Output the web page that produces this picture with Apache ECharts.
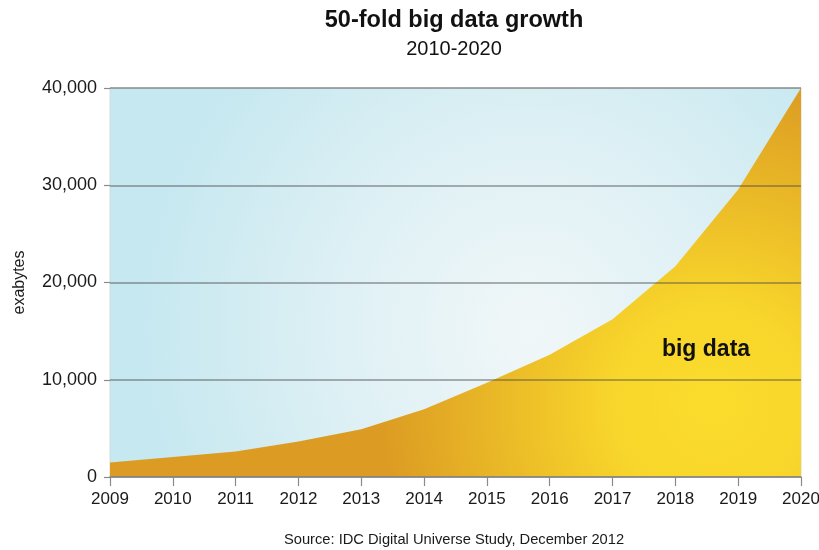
<!DOCTYPE html>
<html>
<head>
<meta charset="utf-8">
<script src="https://cdn.jsdelivr.net/npm/echarts@6/dist/echarts.min.js"></script>
<style>
  html, body { margin: 0; padding: 0; background: #ffffff; overflow: hidden; }
  #chart { width: 819px; height: 550px; }
</style>
</head>
<body>
<div id="chart"></div>
<script>
// Worldwide data volume, in exabytes
const years = ['2009', '2010', '2011', '2012', '2013', '2014', '2015', '2016', '2017', '2018', '2019', '2020'];
const exabytes = [1500, 2050, 2630, 3660, 4910, 6960, 9700, 12580, 16220, 21670, 29560, 40000];
const yMin = 0;
const yMax = 40000;
const yStep = 10000;

const FONT = '"Liberation Sans", Arial, Helvetica, sans-serif';

const chart = echarts.init(document.getElementById('chart'), null, { renderer: 'canvas', width: 819, height: 550 });

chart.setOption({
  animation: false,
  backgroundColor: '#ffffff',
  title: {
    text: '50-fold big data growth',
    subtext: '2010-2020',
    left: 449,
    textAlign: 'center',
    top: 4,
    itemGap: 6,
    textStyle: { fontFamily: FONT, fontSize: 23.5, fontWeight: 'bold', color: '#111111' },
    subtextStyle: { fontFamily: FONT, fontSize: 20, color: '#111111' }
  },
  grid: {
    left: 110,
    right: 18,
    top: 88,
    bottom: 73,
    outerBoundsMode: 'none',
    show: true,
    borderWidth: 1,
    borderColor: '#d4d8da',
    backgroundColor: {
      type: 'radial', x: 530, y: 330, r: 390, global: true,
      colorStops: [
        { offset: 0, color: '#f1f7f8' },
        { offset: 0.45, color: '#e0f1f5' },
        { offset: 1, color: '#c6e8f0' }
      ]
    }
  },
  xAxis: {
    type: 'category',
    data: years,
    boundaryGap: false,
    z: 4,
    axisLine: { show: true, lineStyle: { color: '#8a8a8a', width: 1.5 } },
    axisTick: { show: true, inside: false, length: 9, alignWithLabel: true, lineStyle: { color: '#8a8a8a', width: 1.2 } },
    axisLabel: { fontFamily: FONT, fontSize: 17, color: '#1a1a1a', margin: 14 },
    splitLine: { show: false }
  },
  yAxis: {
    type: 'value',
    min: yMin,
    max: yMax,
    interval: yStep,
    z: 4,
    name: 'exabytes',
    nameLocation: 'middle',
    nameRotate: 90,
    nameGap: 82,
    nameTextStyle: { fontFamily: FONT, fontSize: 16, color: '#1a1a1a' },
    axisLine: { show: false },
    axisTick: { show: true, length: 6, lineStyle: { color: '#8a8a8a', width: 1.2 } },
    axisLabel: {
      fontFamily: FONT, fontSize: 18, color: '#1a1a1a', margin: 13,
      formatter: v => v.toLocaleString('en-US')
    },
    splitLine: { show: true, lineStyle: { color: 'rgba(70,70,70,0.55)', width: 1.5 } }
  },
  series: [{
    type: 'line',
    data: exabytes,
    symbol: 'none',
    smooth: false,
    z: 2,
    lineStyle: { width: 0 },
    areaStyle: {
      opacity: 1,
      color: {
        type: 'radial', x: 712, y: 405, r: 330, global: true,
        colorStops: [
          { offset: 0, color: '#fbdc2c' },
          { offset: 0.3, color: '#f8d62b' },
          { offset: 1, color: '#dc9c23' }
        ]
      }
    }
  }],
  graphic: [
    {
      type: 'text',
      x: 706, y: 350,
      z: 10,
      style: {
        text: 'big data', fontFamily: FONT, fontSize: 23, fontWeight: 'bold',
        fill: '#111111', align: 'center', verticalAlign: 'middle'
      }
    },
    {
      type: 'text',
      x: 454, y: 540,
      style: {
        text: 'Source: IDC Digital Universe Study, December 2012', fontFamily: FONT, fontSize: 14.7,
        fill: '#1a1a1a', align: 'center', verticalAlign: 'middle'
      }
    }
  ]
});
</script>
</body>
</html>
